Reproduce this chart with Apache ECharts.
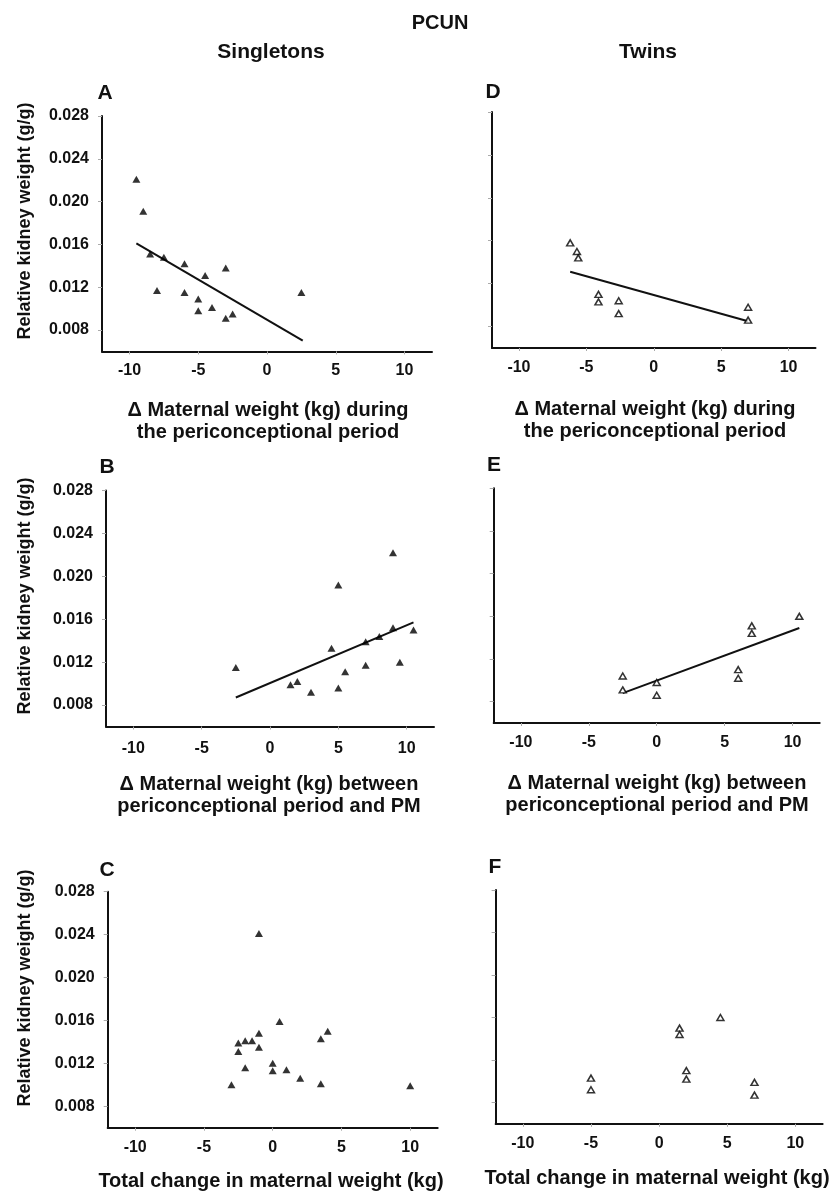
<!DOCTYPE html>
<html><head><meta charset="utf-8">
<script src="https://cdn.jsdelivr.net/npm/echarts@6/dist/echarts.min.js"></script>
<style>html,body{margin:0;padding:0;background:#fff}#c{width:836px;height:1193px}</style>
</head><body><div id="c"></div>
<script>
const FONT = '"Liberation Sans", Arial, Helvetica, sans-serif';
const xTicks = [-10, -5, 0, 5, 10];
const yTicks = [0.008, 0.012, 0.016, 0.020, 0.024, 0.028];

// A: Singletons, periconceptional period
const aX = [-9.5, -9.0, -8.5, -7.5, -6.0, -3.0, -4.5, -8.0, -6.0, 2.5, -5.0, -5.0, -4.0, -2.5, -3.0];
const aY = [0.0221, 0.0191, 0.0151, 0.0148, 0.0142, 0.0138, 0.0131, 0.0117, 0.0115, 0.0115, 0.0109, 0.0098, 0.0101, 0.0095, 0.0091];
const aFitX = [-9.5, 2.6];
const aFitY = [0.0161, 0.0070];
// B: Singletons, periconceptional period to PM
const bX = [9.0, 5.0, 9.0, 10.5, 8.0, 7.0, 4.5, -2.5, 7.0, 9.5, 5.5, 1.5, 2.0, 3.0, 5.0];
const bY = [0.0222, 0.0192, 0.0152, 0.0150, 0.0144, 0.0139, 0.0133, 0.0115, 0.0117, 0.0120, 0.0111, 0.0099, 0.0102, 0.0092, 0.0096];
const bFitX = [-2.5, 10.5];
const bFitY = [0.0087, 0.0157];
// C: Singletons, total change
const cX = [-1.0, 0.5, 4.0, -1.0, 3.5, -2.5, -2.0, -1.5, -1.0, -2.5, 0.0, -2.0, 0.0, 1.0, 2.0, -3.0, 3.5, 10.0];
const cY = [0.0241, 0.0159, 0.0150, 0.0148, 0.0143, 0.0139, 0.0141, 0.0141, 0.0135, 0.0131, 0.0120, 0.0116, 0.0113, 0.0114, 0.0106, 0.0100, 0.0101, 0.0099];
// D: Twins, periconceptional period
const dX = [-6.2, -5.7, -5.6, -4.1, -4.1, -2.6, -2.6, 7.0, 7.0];
const dY = [0.0158, 0.0150, 0.0144, 0.0110, 0.0103, 0.0104, 0.0092, 0.0098, 0.0086];
const dFitX = [-6.2, 7.0];
const dFitY = [0.0131, 0.0085];
// E: Twins, periconceptional period to PM
const eX = [10.5, 7.0, 7.0, 6.0, 6.0, -2.5, -2.5, 0.0, 0.0];
const eY = [0.0160, 0.0151, 0.0144, 0.0110, 0.0102, 0.0104, 0.0091, 0.0098, 0.0086];
const eFitX = [-2.5, 10.5];
const eFitY = [0.0088, 0.0149];
// F: Twins, total change
const fX = [4.5, 1.5, 1.5, 2.0, 2.0, -5.0, -5.0, 7.0, 7.0];
const fY = [0.0160, 0.0150, 0.0144, 0.0110, 0.0102, 0.0103, 0.0092, 0.0099, 0.0087];

const pair = (xs, ys) => xs.map((x, i) => [x, ys[i]]);

const panels = [
  {pts: pair(aX, aY), fit: pair(aFitX, aFitY), filled: true, labels: true, grid: {left: 102, top: 116, width: 330, height: 235.4}, margin: 11},
  {pts: pair(bX, bY), fit: pair(bFitX, bFitY), filled: true, labels: true, grid: {left: 106, top: 490.5, width: 328, height: 236}, margin: 14},
  {pts: pair(cX, cY), fit: null, filled: true, labels: true, grid: {left: 107.7, top: 891.7, width: 330, height: 236}, margin: 12},
  {pts: pair(dX, dY), fit: pair(dFitX, dFitY), filled: false, labels: false, grid: {left: 492, top: 112, width: 323.5, height: 236}, margin: 12},
  {pts: pair(eX, eY), fit: pair(eFitX, eFitY), filled: false, labels: false, grid: {left: 493.7, top: 488.3, width: 326, height: 234.7}, margin: 12},
  {pts: pair(fX, fY), fit: null, filled: false, labels: false, grid: {left: 495.6, top: 890, width: 327, height: 233.8}, margin: 12}
];

const grids = [], xAxes = [], yAxes = [], series = [];
panels.forEach((p, i) => {
  grids.push(Object.assign({containLabel: false}, p.grid));
  xAxes.push({
    type: 'value', gridIndex: i, min: -12, max: 12,
    axisLine: {onZero: false, lineStyle: {color: '#111', width: 2}},
    axisTick: {show: true, length: 3, lineStyle: {color: '#aaa'}, customValues: xTicks},
    axisLabel: {customValues: xTicks, margin: p.margin, color: '#111', fontFamily: FONT, fontWeight: 'bold', fontSize: 16},
    splitLine: {show: false}
  });
  yAxes.push({
    type: 'value', gridIndex: i, min: 0.006, max: 0.028,
    axisLine: {show: true, onZero: false, lineStyle: {color: '#111', width: 2}},
    axisTick: {show: true, length: 4, lineStyle: {color: '#aaa'}, customValues: yTicks},
    axisLabel: {show: p.labels, customValues: yTicks, margin: 13, color: '#111', fontFamily: FONT, fontWeight: 'bold', fontSize: 16,
      formatter: v => v.toFixed(3)},
    splitLine: {show: false}
  });
  series.push({
    type: 'scatter', xAxisIndex: i, yAxisIndex: i, data: p.pts, symbol: 'triangle',
    symbolSize: p.filled ? [8, 7] : [7, 6],
    itemStyle: p.filled ? {color: '#000'} : {color: '#fff', borderColor: '#000', borderWidth: 1.5},
    z: 3
  });
  if (p.fit) {
    series.push({
      type: 'line', xAxisIndex: i, yAxisIndex: i, data: p.fit, symbol: 'none',
      lineStyle: {color: '#111', width: 2}, z: 2, silent: true
    });
  }
});

function txt(text, x, y, size, extra) {
  return Object.assign({
    type: 'text', x: x, y: y,
    style: {text: text, fill: '#111', fontFamily: FONT, fontWeight: 'bold', fontSize: size,
      align: 'center', verticalAlign: 'middle', textAlign: 'center', textVerticalAlign: 'middle'}
  }, extra || {});
}

const graphics = [
  txt('PCUN', 440, 23, 20),
  txt('Singletons', 271, 52, 21),
  txt('Twins', 648, 52, 21),
  txt('A', 105, 93, 21), txt('D', 493, 92, 21),
  txt('B', 107, 467, 21), txt('E', 494, 465, 21),
  txt('C', 107, 870, 21), txt('F', 495, 867, 21),
  txt('Relative kidney weight (g/g)', 25, 221, 18, {rotation: Math.PI / 2}),
  txt('Relative kidney weight (g/g)', 25, 596, 18, {rotation: Math.PI / 2}),
  txt('Relative kidney weight (g/g)', 25, 988, 18, {rotation: Math.PI / 2}),
  txt('\u0394 Maternal weight (kg) during', 268, 410, 20),
  txt('the periconceptional period', 268, 432, 20),
  txt('\u0394 Maternal weight (kg) during', 655, 409, 20),
  txt('the periconceptional period', 655, 431, 20),
  txt('\u0394 Maternal weight (kg) between', 269, 784, 20),
  txt('periconceptional period and PM', 269, 806, 20),
  txt('\u0394 Maternal weight (kg) between', 657, 783, 20),
  txt('periconceptional period and PM', 657, 805, 20),
  txt('Total change in maternal weight (kg)', 271, 1181, 20),
  txt('Total change in maternal weight (kg)', 657, 1178, 20)
];

const chart = echarts.init(document.getElementById('c'), null, {renderer: 'canvas'});
chart.setOption({
  animation: false,
  backgroundColor: '#fff',
  grid: grids, xAxis: xAxes, yAxis: yAxes, series: series,
  graphic: {elements: graphics}
});
</script></body></html>
